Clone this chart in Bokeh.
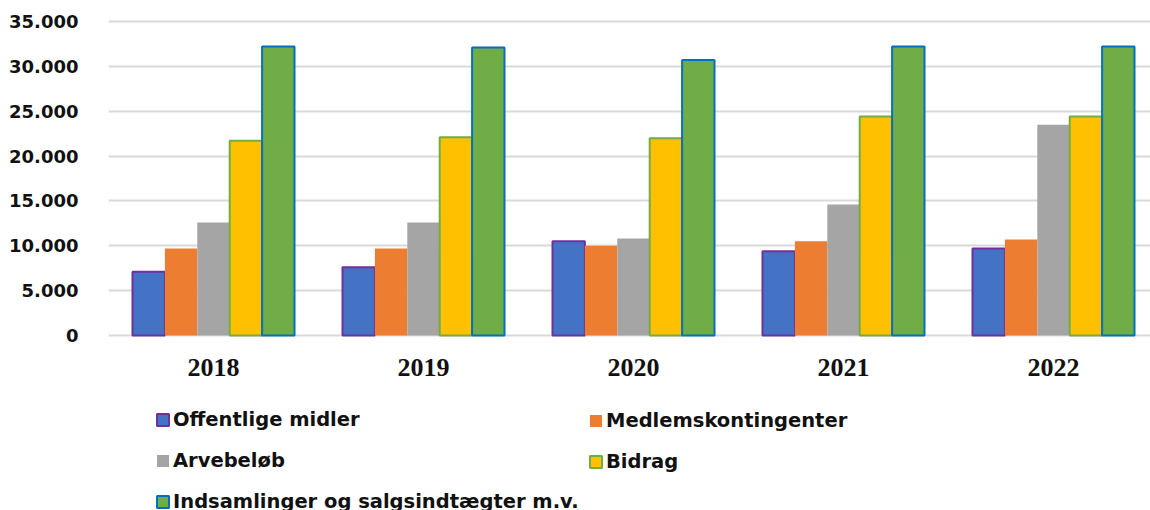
from bokeh.plotting import figure
from bokeh.models import ColumnDataSource, Range1d, FixedTicker, Legend, LegendItem
from bokeh.embed import file_html
from bokeh.resources import INLINE

years = ["2018", "2019", "2020", "2021", "2022"]
series_names = ["Offentlige midler", "Medlemskontingenter", "Arvebeløb", "Bidrag",
                "Indsamlinger og salgsindtægter m.v."]
offentlige = [7100, 7600, 10500, 9400, 9700]
medlems = [9700, 9700, 10000, 10500, 10700]
arv = [12600, 12600, 10800, 14600, 23500]
bidrag = [21700, 22100, 22000, 24400, 24400]
indsamlinger = [32200, 32100, 30700, 32200, 32200]
y_ticks = [0, 5000, 10000, 15000, 20000, 25000, 30000, 35000]
y_tick_labels = ["0", "5.000", "10.000", "15.000", "20.000", "25.000", "30.000", "35.000"]

fills = ["#4472C4", "#ED7D31", "#A5A5A5", "#FFC000", "#70AD47"]
lines = ["#7030A0", None, None, "#70AD47", "#0070C0"]

W, H = 1150, 510
PX_PER_UNIT = 314 / 35000.0   # vertical scale
frame_top, zero_y = 13, 335
y_end = 35000 + (21 - frame_top) / PX_PER_UNIT
y_start = -(H - zero_y) / PX_PER_UNIT

p = figure(width=W, height=H, output_backend="svg", toolbar_location=None,
           x_range=Range1d(-0.5, -0.5 + 1042 / 210), y_range=Range1d(y_start, y_end),
           min_border_left=108, min_border_right=0, min_border_top=frame_top,
           min_border_bottom=0)
p.outline_line_color = None
p.background_fill_color = "white"
p.border_fill_color = "white"

xs = list(range(len(years)))
bw = 0.1543
renderers = []
for i, (name, vals) in enumerate(zip(series_names, [offentlige, medlems, arv, bidrag, indsamlinger])):
    src = ColumnDataSource(dict(x=[x + (i - 2) * bw for x in xs], top=vals))
    r = p.vbar(x="x", top="top", width=bw, bottom=0, source=src,
               fill_color=fills[i], line_color=lines[i],
               line_width=2 if lines[i] else 0,
               line_alpha=1 if lines[i] else 0)
    renderers.append(r)

# axes
p.xaxis.fixed_location = 0
p.xaxis.ticker = FixedTicker(ticks=xs)
p.xaxis.major_label_overrides = {x: y for x, y in zip(xs, years)}
p.xaxis.major_label_text_font = "Liberation Serif"
p.xaxis.major_label_text_font_style = "bold"
p.xaxis.major_label_text_font_size = "26px"
p.xaxis.major_label_text_color = "#111111"
p.xaxis.major_label_standoff = 17
p.xaxis.axis_line_color = None
p.xaxis.major_tick_line_color = None
p.xaxis.minor_tick_line_color = None

p.yaxis.ticker = FixedTicker(ticks=y_ticks)
p.yaxis.major_label_overrides = {t: l for t, l in zip(y_ticks, y_tick_labels)}
p.yaxis.major_label_text_font = "DejaVu Sans"
p.yaxis.major_label_text_font_style = "bold"
p.yaxis.major_label_text_font_size = "18px"
p.yaxis.major_label_text_color = "#111111"
p.yaxis.major_label_standoff = 24
p.yaxis.axis_line_color = None
p.yaxis.major_tick_line_color = None
p.yaxis.minor_tick_line_color = None

p.xgrid.grid_line_color = None
p.ygrid.grid_line_color = "#d9d9d9"
p.ygrid.grid_line_width = 2

def make_legend(idx, loc):
    lg = Legend(items=[LegendItem(label=series_names[i], renderers=[renderers[i]]) for i in idx],
                location=loc, orientation="vertical")
    lg.label_text_font = "DejaVu Sans"
    lg.label_text_font_style = "bold"
    lg.label_text_font_size = "19.5px"
    lg.label_text_color = "#111111"
    lg.glyph_width = 15
    lg.glyph_height = 15
    lg.label_standoff = 3
    lg.label_height = 23
    lg.spacing = 18
    lg.padding = 0
    lg.margin = 0
    lg.border_line_alpha = 0
    lg.background_fill_alpha = 0
    return lg

p.add_layout(make_legend([0, 2, 4], (47, -3)))
p.add_layout(make_legend([1, 3], (480, 37)))

open("out.html", "w").write(file_html(p, INLINE))
